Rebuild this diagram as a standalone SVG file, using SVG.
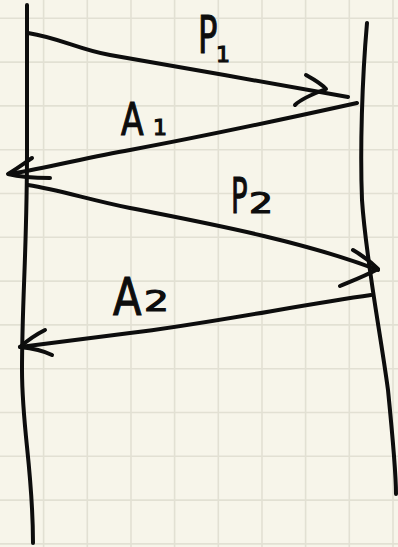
<svg xmlns="http://www.w3.org/2000/svg" width="398" height="547" viewBox="0 0 398 547">
<style>
.grid line{stroke:#e2e0d3;stroke-width:1.6}
.ink{fill:none;stroke:#0d0d0d;stroke-width:4;stroke-linecap:round;stroke-linejoin:round}
.lbl{font-family:"DejaVu Sans","Liberation Sans",sans-serif;fill:#0d0d0d;stroke:#0d0d0d;stroke-width:1.2}
</style>
<rect width="398" height="547" fill="#f7f5ea"/>
<g class="grid">
<line x1="43.6" y1="0" x2="43.6" y2="547"/><line x1="87.3" y1="0" x2="87.3" y2="547"/><line x1="131" y1="0" x2="131" y2="547"/><line x1="174.6" y1="0" x2="174.6" y2="547"/><line x1="218.3" y1="0" x2="218.3" y2="547"/><line x1="262" y1="0" x2="262" y2="547"/><line x1="305.6" y1="0" x2="305.6" y2="547"/><line x1="349.3" y1="0" x2="349.3" y2="547"/><line x1="393" y1="0" x2="393" y2="547"/>
<line x1="0" y1="18.3" x2="398" y2="18.3"/><line x1="0" y1="62.1" x2="398" y2="62.1"/><line x1="0" y1="105.9" x2="398" y2="105.9"/><line x1="0" y1="149.7" x2="398" y2="149.7"/><line x1="0" y1="193.5" x2="398" y2="193.5"/><line x1="0" y1="237.3" x2="398" y2="237.3"/><line x1="0" y1="281.1" x2="398" y2="281.1"/><line x1="0" y1="324.9" x2="398" y2="324.9"/><line x1="0" y1="368.7" x2="398" y2="368.7"/><line x1="0" y1="412.5" x2="398" y2="412.5"/><line x1="0" y1="456.3" x2="398" y2="456.3"/><line x1="0" y1="500.1" x2="398" y2="500.1"/><line x1="0" y1="543.9" x2="398" y2="543.9"/>
</g>
<g id="left-lifeline"><path class="ink" d="M27,5 L27,150 C27,250 22,300 22,370 C22,430 33,470 33,543"/></g>
<g id="right-lifeline"><path class="ink" d="M367,23 C362,80 360,150 362,200 C366,260 380,330 388,390 C392,430 396,470 396,494"/></g>
<g id="connectors">
<g id="p1"><path class="ink" d="M28,33 C60,38 80,50 110,55 C180,67 280,85 348,97"/><path class="ink" d="M306,75 C315,80 322,84 326,89 C310,95 300,100 295,105"/>
<text class="lbl" transform="translate(198,53) scale(0.62,1)" font-size="52">P</text><text class="lbl" x="216" y="62" font-size="22">1</text></g>
<g id="a1"><path class="ink" d="M357,103 C280,120 200,137 130,150 C90,157 50,167 10,174"/><path class="ink" d="M32,158 C22,165 15,170 8,174 C20,177 35,178 50,178"/>
<text class="lbl" transform="translate(121,135) scale(0.75,1)" font-size="44">A</text><text class="lbl" x="153" y="135" font-size="22">1</text></g>
<g id="p2"><path class="ink" d="M28,185 C60,190 90,200 130,208 C200,222 300,240 378,270"/><path class="ink" d="M353,250 C365,257 372,263 378,269 C365,276 352,281 340,286"/>
<text class="lbl" transform="translate(231,213) scale(0.55,1)" font-size="50">P</text><text class="lbl" transform="translate(249,213) scale(1.35,1)" font-size="28">2</text></g>
<g id="a2"><path class="ink" d="M371,295 C300,305 200,325 130,333 C90,338 50,343 20,347"/><path class="ink" d="M45,330 C35,335 28,340 20,347 C30,348 42,350 52,355"/>
<text class="lbl" transform="translate(113,315) scale(0.8,1)" font-size="52">A</text><text class="lbl" transform="translate(144,311) scale(1.4,1)" font-size="28">2</text></g>
</g>
</svg>
